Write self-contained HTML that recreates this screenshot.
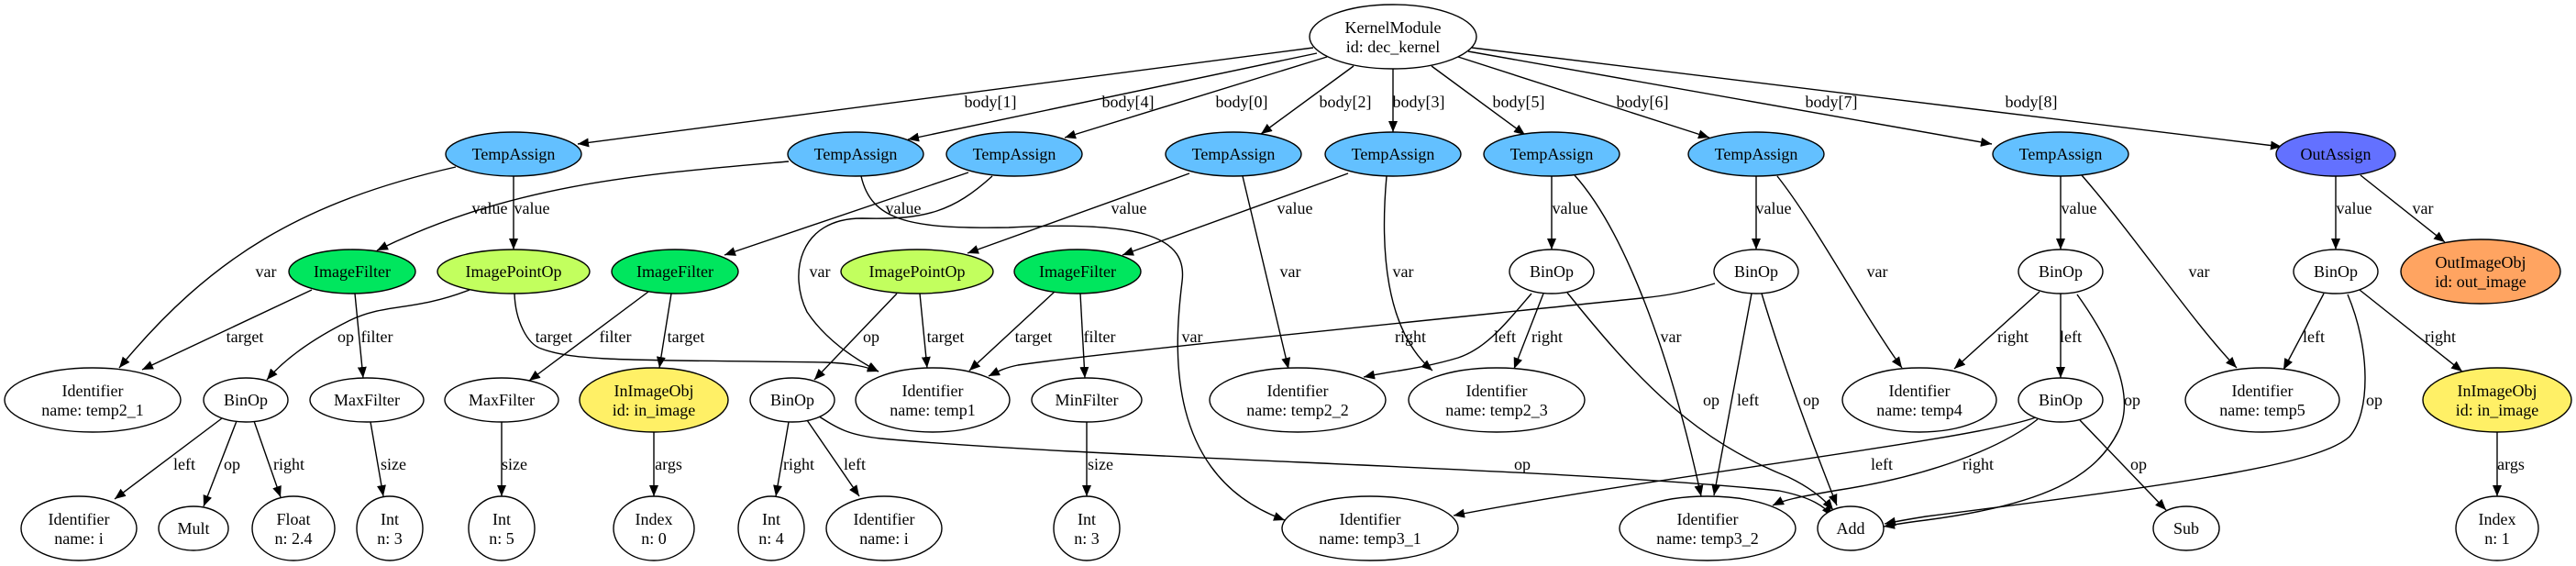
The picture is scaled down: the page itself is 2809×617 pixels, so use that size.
<!DOCTYPE html>
<html><head><meta charset="utf-8"><style>
html,body{margin:0;padding:0;background:#fff;}
svg{display:block;}
text{font-family:"Liberation Serif",serif;font-size:18px;fill:#000;text-anchor:middle;dominant-baseline:central;}
.e{fill:none;stroke:#000;stroke-width:1.4;marker-end:url(#a);}
ellipse{stroke:#000;stroke-width:1.4;fill:#fff;}
.ta{fill:#63c0ff;}.if{fill:#00e65e;}.ip{fill:#c2ff5e;}.ii{fill:#fff066;}.oi{fill:#ffa461;}.oa{fill:#6371ff;}
</style></head><body>
<svg width="2809" height="617" viewBox="0 0 2809 617" xmlns="http://www.w3.org/2000/svg">
<defs><marker id="a" markerUnits="userSpaceOnUse" markerWidth="14" markerHeight="12" refX="12" refY="5" orient="auto"><path d="M0,0 L12,5 L0,10 z" fill="#000"/></marker></defs>
<!-- edges from KernelModule -->
<path class="e" d="M1432,52 L630,157"/>
<path class="e" d="M1436,58 L990,152"/>
<path class="e" d="M1447,62 L1161,150"/>
<path class="e" d="M1476,72 L1375,146"/>
<path class="e" d="M1519,75 L1519,144"/>
<path class="e" d="M1561,72 L1663,147"/>
<path class="e" d="M1590,62 L1864,150"/>
<path class="e" d="M1601,56 L2172,157"/>
<path class="e" d="M1605,52 L2488,160"/>
<!-- TempAssign A -->
<path class="e" d="M560,192 L560,272"/>
<path class="e" d="M497,182 C330,220 230,280 130,401"/>
<!-- TempAssign B -->
<path class="e" d="M860,176 C700,190 560,200 411,273"/>
<path class="e" d="M939,192 C950,240 990,250 1100,248 C1250,240 1295,260 1289,307 C1280,380 1270,520 1401,567"/>
<!-- TempAssign C -->
<path class="e" d="M1056,188 L790,278"/>
<path class="e" d="M1082,192 C1040,230 1010,240 940,238 C870,238 860,300 880,340 C900,370 930,390 958,405"/>
<!-- TempAssign D -->
<path class="e" d="M1297,189 L1055,276"/>
<path class="e" d="M1355,192 L1405,402"/>
<!-- TempAssign E -->
<path class="e" d="M1470,189 L1224,278"/>
<path class="e" d="M1512,192 C1505,270 1510,360 1562,404"/>
<!-- ImageFilter A -->
<path class="e" d="M340,316 L155,403"/>
<path class="e" d="M387,320 L396,412"/>
<!-- ImagePointOp A -->
<path class="e" d="M512,316 C450,340 420,330 380,350 C340,370 310,392 291,414"/>
<path class="e" d="M561,320 C562,350 575,375 590,380 C630,395 700,392 900,395 C930,396 945,400 958,405"/>
<!-- ImageFilter B -->
<path class="e" d="M707,318 L577,415"/>
<path class="e" d="M732,320 L719,401"/>
<!-- BinOp A -->
<path class="e" d="M242,456 L125,544"/>
<path class="e" d="M258,459 L222,552"/>
<path class="e" d="M277,459 L306,542"/>
<path class="e" d="M404,460 L418,541"/>
<path class="e" d="M547,460 L547,541"/>
<path class="e" d="M713,471 L713,541"/>
<!-- ImagePointOp B -->
<path class="e" d="M978,320 L888,414"/>
<path class="e" d="M1003,320 L1011,401"/>
<!-- ImageFilter C -->
<path class="e" d="M1150,318 L1057,404"/>
<path class="e" d="M1178,320 L1183,412"/>
<path class="e" d="M1185,460 L1185,541"/>
<!-- BinOp B -->
<path class="e" d="M860,460 L846,541"/>
<path class="e" d="M880,458 L937,541"/>
<path class="e" d="M890,452 C915,468 925,474 960,478 C1200,500 1700,510 1940,535 C1975,542 1990,552 1998,563"/>
<!-- TempAssign F / BinOp C -->
<path class="e" d="M1692,192 L1692,272"/>
<path class="e" d="M1717,191 C1770,250 1820,380 1855,541"/>
<path class="e" d="M1670,320 C1640,355 1620,380 1590,390 C1550,402 1520,404 1487,411"/>
<path class="e" d="M1683,320 L1651,402"/>
<path class="e" d="M1709,319 C1790,420 1850,480 1950,520 C1975,532 1990,545 1999,556"/>
<!-- TempAssign G / BinOp D -->
<path class="e" d="M1915,192 L1915,272"/>
<path class="e" d="M1938,192 C1980,245 2030,340 2074,401"/>
<path class="e" d="M1870,309 C1840,318 1820,322 1790,325 C1500,355 1200,385 1110,398 C1095,401 1088,405 1078,410"/>
<path class="e" d="M1910,320 L1869,540"/>
<path class="e" d="M1921,320 C1945,400 1975,480 2003,551"/>
<!-- TempAssign H / BinOp E -->
<path class="e" d="M2247,192 L2247,272"/>
<path class="e" d="M2270,191 C2330,260 2390,350 2439,401"/>
<path class="e" d="M2224,318 L2131,402"/>
<path class="e" d="M2247,320 L2247,412"/>
<path class="e" d="M2265,321 C2300,370 2330,430 2310,470 C2285,520 2230,550 2100,567 C2075,570 2065,572 2054,574"/>
<!-- BinOp G -->
<path class="e" d="M2220,455 C2150,480 1800,520 1585,562"/>
<path class="e" d="M2222,457 C2180,490 2100,520 2000,535 C1960,542 1945,545 1933,551"/>
<path class="e" d="M2268,458 L2362,556"/>
<!-- OutAssign -->
<path class="e" d="M2547,192 L2547,272"/>
<path class="e" d="M2574,191 L2666,264"/>
<path class="e" d="M2534,320 L2490,403"/>
<path class="e" d="M2573,316 L2685,405"/>
<path class="e" d="M2560,321 C2585,380 2585,450 2562,476 C2530,505 2400,525 2100,563 C2075,567 2065,569 2055,571"/>
<path class="e" d="M2723,471 L2723,541"/>

<!-- edge labels -->
<text x="1080" y="111">body[1]</text><text x="1230" y="111">body[4]</text><text x="1354" y="111">body[0]</text>
<text x="1467" y="111">body[2]</text><text x="1547" y="111">body[3]</text><text x="1656" y="111">body[5]</text>
<text x="1791" y="111">body[6]</text><text x="1997" y="111">body[7]</text><text x="2215" y="111">body[8]</text>
<text x="580" y="227">value</text><text x="534" y="227">value</text><text x="985" y="227">value</text>
<text x="1231" y="227">value</text><text x="1412" y="227">value</text><text x="1712" y="227">value</text>
<text x="1934" y="227">value</text><text x="2267" y="227">value</text><text x="2567" y="227">value</text><text x="2642" y="227">var</text>
<text x="290" y="296">var</text><text x="894" y="296">var</text><text x="1407" y="296">var</text><text x="1530" y="296">var</text>
<text x="2047" y="296">var</text><text x="2398" y="296">var</text>
<text x="267" y="367">target</text><text x="411" y="367">filter</text><text x="377" y="367">op</text><text x="604" y="367">target</text>
<text x="671" y="367">filter</text><text x="748" y="367">target</text><text x="950" y="367">op</text><text x="1031" y="367">target</text>
<text x="1127" y="367">target</text><text x="1199" y="367">filter</text><text x="1300" y="367">var</text><text x="1538" y="367">right</text>
<text x="1641" y="367">left</text><text x="1687" y="367">right</text><text x="1822" y="367">var</text>
<text x="2195" y="367">right</text><text x="2258" y="367">left</text><text x="2523" y="367">left</text><text x="2661" y="367">right</text>
<text x="1866" y="436">op</text><text x="1906" y="436">left</text><text x="1975" y="436">op</text><text x="2325" y="436">op</text><text x="2589" y="436">op</text>
<text x="201" y="506">left</text><text x="253" y="506">op</text><text x="315" y="506">right</text><text x="429" y="506">size</text>
<text x="561" y="506">size</text><text x="729" y="506">args</text><text x="871" y="506">right</text><text x="932" y="506">left</text>
<text x="1200" y="506">size</text><text x="1660" y="506">op</text><text x="2052" y="506">left</text><text x="2157" y="506">right</text>
<text x="2332" y="506">op</text><text x="2738" y="506">args</text>

<!-- nodes -->
<ellipse cx="1519" cy="40" rx="91" ry="35"/><text x="1519" y="30">KernelModule</text><text x="1519" y="51">id: dec_kernel</text>
<ellipse class="ta" cx="560" cy="168" rx="74" ry="24"/><text x="560" y="168">TempAssign</text>
<ellipse class="ta" cx="933" cy="168" rx="74" ry="24"/><text x="933" y="168">TempAssign</text>
<ellipse class="ta" cx="1106" cy="168" rx="74" ry="24"/><text x="1106" y="168">TempAssign</text>
<ellipse class="ta" cx="1345" cy="168" rx="74" ry="24"/><text x="1345" y="168">TempAssign</text>
<ellipse class="ta" cx="1519" cy="168" rx="74" ry="24"/><text x="1519" y="168">TempAssign</text>
<ellipse class="ta" cx="1692" cy="168" rx="74" ry="24"/><text x="1692" y="168">TempAssign</text>
<ellipse class="ta" cx="1915" cy="168" rx="74" ry="24"/><text x="1915" y="168">TempAssign</text>
<ellipse class="ta" cx="2247" cy="168" rx="74" ry="24"/><text x="2247" y="168">TempAssign</text>
<ellipse class="oa" cx="2547" cy="168" rx="65" ry="24"/><text x="2547" y="168">OutAssign</text>

<ellipse class="if" cx="384" cy="296" rx="69" ry="24"/><text x="384" y="296">ImageFilter</text>
<ellipse class="ip" cx="560" cy="296" rx="83" ry="24"/><text x="560" y="296">ImagePointOp</text>
<ellipse class="if" cx="736" cy="296" rx="69" ry="24"/><text x="736" y="296">ImageFilter</text>
<ellipse class="ip" cx="1000" cy="296" rx="83" ry="24"/><text x="1000" y="296">ImagePointOp</text>
<ellipse class="if" cx="1175" cy="296" rx="69" ry="24"/><text x="1175" y="296">ImageFilter</text>
<ellipse cx="1692" cy="296" rx="46" ry="24"/><text x="1692" y="296">BinOp</text>
<ellipse cx="1915" cy="296" rx="46" ry="24"/><text x="1915" y="296">BinOp</text>
<ellipse cx="2247" cy="296" rx="46" ry="24"/><text x="2247" y="296">BinOp</text>
<ellipse cx="2547" cy="296" rx="46" ry="24"/><text x="2547" y="296">BinOp</text>
<ellipse class="oi" cx="2705" cy="296" rx="87" ry="35"/><text x="2705" y="286">OutImageObj</text><text x="2705" y="307">id: out_image</text>

<ellipse cx="101" cy="436" rx="96" ry="35"/><text x="101" y="426">Identifier</text><text x="101" y="447">name: temp2_1</text>
<ellipse cx="268" cy="436" rx="46" ry="24"/><text x="268" y="436">BinOp</text>
<ellipse cx="400" cy="436" rx="62" ry="24"/><text x="400" y="436">MaxFilter</text>
<ellipse cx="547" cy="436" rx="62" ry="24"/><text x="547" y="436">MaxFilter</text>
<ellipse class="ii" cx="713" cy="436" rx="81" ry="35"/><text x="713" y="426">InImageObj</text><text x="713" y="447">id: in_image</text>
<ellipse cx="864" cy="436" rx="46" ry="24"/><text x="864" y="436">BinOp</text>
<ellipse cx="1017" cy="436" rx="84" ry="35"/><text x="1017" y="426">Identifier</text><text x="1017" y="447">name: temp1</text>
<ellipse cx="1185" cy="436" rx="60" ry="24"/><text x="1185" y="436">MinFilter</text>
<ellipse cx="1415" cy="436" rx="96" ry="35"/><text x="1415" y="426">Identifier</text><text x="1415" y="447">name: temp2_2</text>
<ellipse cx="1632" cy="436" rx="96" ry="35"/><text x="1632" y="426">Identifier</text><text x="1632" y="447">name: temp2_3</text>
<ellipse cx="2093" cy="436" rx="84" ry="35"/><text x="2093" y="426">Identifier</text><text x="2093" y="447">name: temp4</text>
<ellipse cx="2247" cy="436" rx="46" ry="24"/><text x="2247" y="436">BinOp</text>
<ellipse cx="2467" cy="436" rx="84" ry="35"/><text x="2467" y="426">Identifier</text><text x="2467" y="447">name: temp5</text>
<ellipse class="ii" cx="2723" cy="436" rx="81" ry="35"/><text x="2723" y="426">InImageObj</text><text x="2723" y="447">id: in_image</text>

<ellipse cx="86" cy="576" rx="63" ry="35"/><text x="86" y="566">Identifier</text><text x="86" y="587">name: i</text>
<ellipse cx="211" cy="576" rx="38" ry="24"/><text x="211" y="576">Mult</text>
<ellipse cx="320" cy="576" rx="45" ry="35"/><text x="320" y="566">Float</text><text x="320" y="587">n: 2.4</text>
<ellipse cx="425" cy="576" rx="36" ry="35"/><text x="425" y="566">Int</text><text x="425" y="587">n: 3</text>
<ellipse cx="547" cy="576" rx="36" ry="35"/><text x="547" y="566">Int</text><text x="547" y="587">n: 5</text>
<ellipse cx="713" cy="576" rx="44" ry="35"/><text x="713" y="566">Index</text><text x="713" y="587">n: 0</text>
<ellipse cx="841" cy="576" rx="36" ry="35"/><text x="841" y="566">Int</text><text x="841" y="587">n: 4</text>
<ellipse cx="964" cy="576" rx="63" ry="35"/><text x="964" y="566">Identifier</text><text x="964" y="587">name: i</text>
<ellipse cx="1185" cy="576" rx="36" ry="35"/><text x="1185" y="566">Int</text><text x="1185" y="587">n: 3</text>
<ellipse cx="1494" cy="576" rx="96" ry="35"/><text x="1494" y="566">Identifier</text><text x="1494" y="587">name: temp3_1</text>
<ellipse cx="1862" cy="576" rx="96" ry="35"/><text x="1862" y="566">Identifier</text><text x="1862" y="587">name: temp3_2</text>
<ellipse cx="2018" cy="576" rx="36" ry="24"/><text x="2018" y="576">Add</text>
<ellipse cx="2384" cy="576" rx="36" ry="24"/><text x="2384" y="576">Sub</text>
<ellipse cx="2723" cy="576" rx="45" ry="35"/><text x="2723" y="566">Index</text><text x="2723" y="587">n: 1</text>
</svg>
</body></html>
